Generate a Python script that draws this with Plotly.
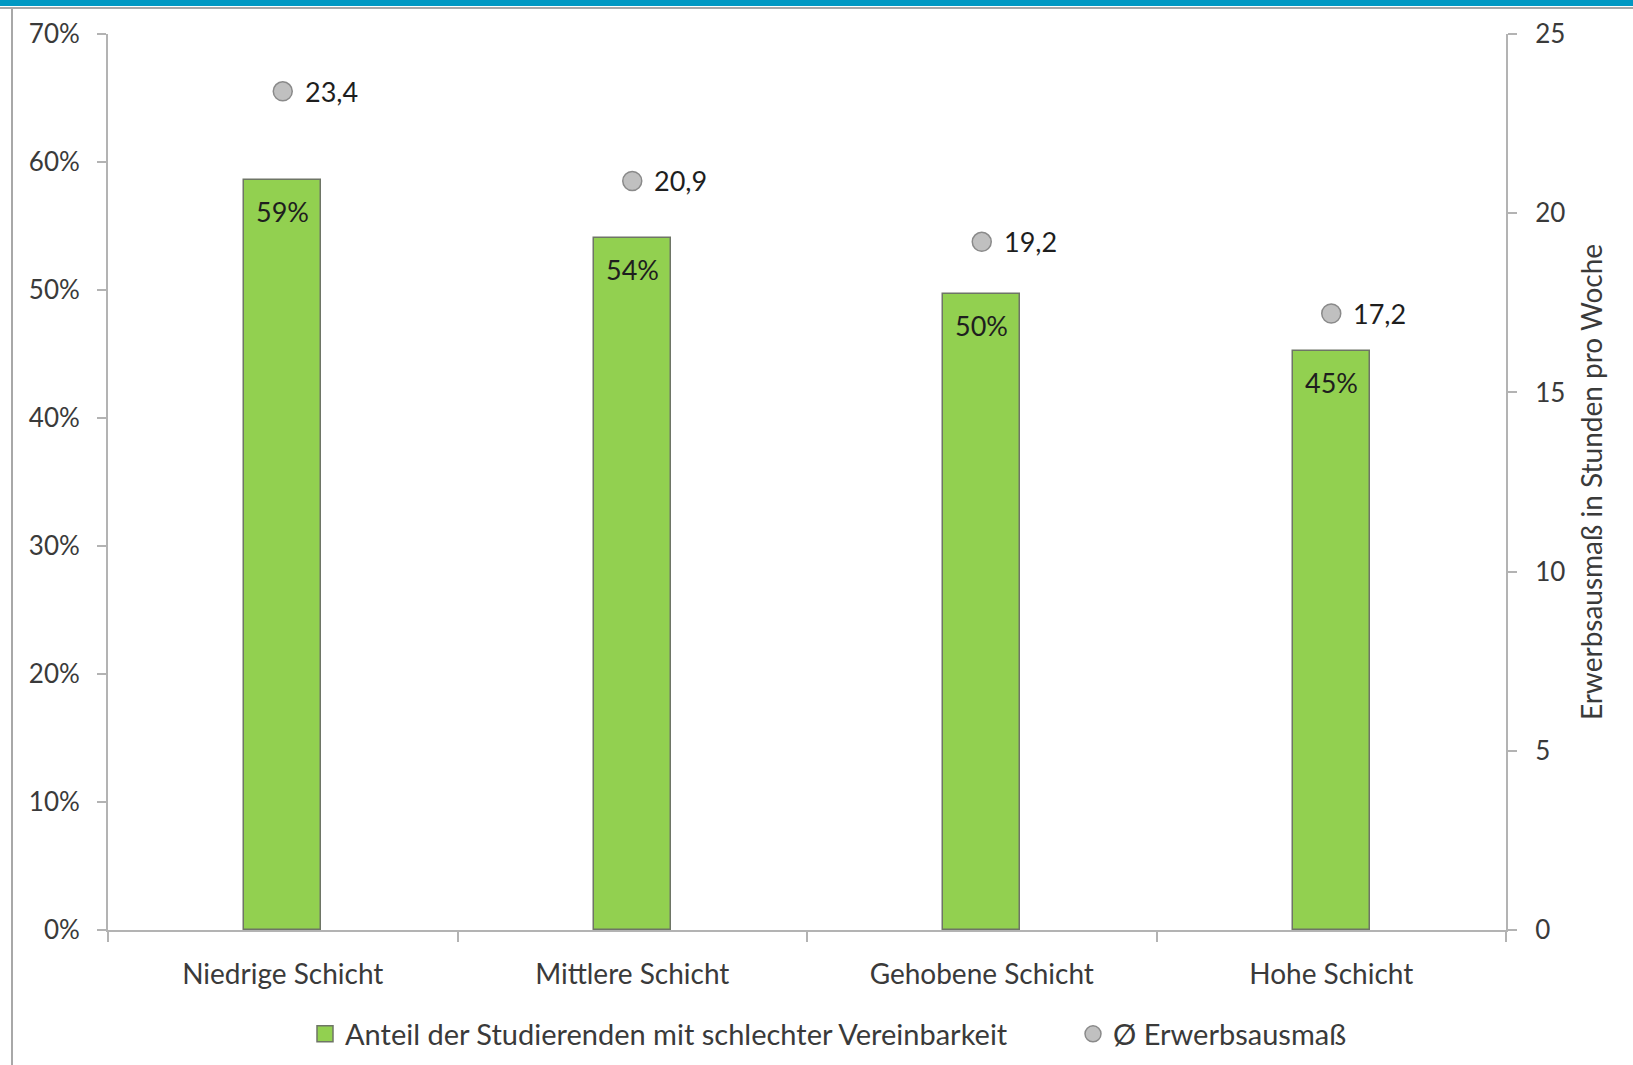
import plotly.graph_objects as go

# Data
categories = ["Niedrige Schicht", "Mittlere Schicht", "Gehobene Schicht", "Hohe Schicht"]
share_poor_balance = [58.6, 54.1, 49.7, 45.2]      # % of students, left axis
avg_hours = [23.4, 20.9, 19.2, 17.2]               # hours per week, right axis
bar_name = "Anteil der Studierenden mit schlechter Vereinbarkeit"
dot_name = "Ø Erwerbsausmaß"
y2_title = "Erwerbsausmaß in Stunden pro Woche"

W, H = 1633, 1065
L, R, T, B = 108, 127, 34, 135
PW, PH = W - L - R, H - T - B

def px_x(px):
    return (px - L) / PW

def px_y(py):
    return (H - B - py) / PH

FONT = "Lato"
GREY_TXT = "#3a3a3a"
AXIS = "#b3b3b3"
GREEN = "#92D050"
GREEN_EDGE = "#6e7566"

fig = go.Figure()

fig.add_trace(go.Bar(
    x=categories, y=share_poor_balance, name=bar_name,
    width=0.22,
    marker=dict(color=GREEN, line=dict(color=GREEN_EDGE, width=1.5)),
    yaxis="y", showlegend=False,
))

# legend entry for the bars, drawn as a larger square swatch
fig.add_trace(go.Scatter(
    x=[None], y=[None], name=bar_name, mode="markers",
    marker=dict(symbol="square", size=18, color=GREEN, line=dict(color=GREEN_EDGE, width=1.5)),
    legend="legend",
))

fig.add_trace(go.Scatter(
    x=categories, y=avg_hours, name=dot_name, mode="markers",
    marker=dict(size=19, color="#c0c0c0", line=dict(color="#8a8a8a", width=1.5)),
    yaxis="y2", legend="legend2",
))

annotations = []
for c, v in zip(categories, share_poor_balance):
    annotations.append(dict(
        x=c, y=v, xref="x", yref="y", text=f"{v:.0f}%", showarrow=False,
        yanchor="top", yshift=-13, font=dict(family=FONT, size=27, color="#1e1e1e"),
    ))
for c, v in zip(categories, avg_hours):
    annotations.append(dict(
        x=c, y=v, xref="x", yref="y2", text=f"{v:.1f}".replace(".", ","),
        showarrow=False, xanchor="left", xshift=20,
        font=dict(family=FONT, size=27, color="#1e1e1e"),
    ))

shapes = [
    # blue top band
    dict(type="rect", xref="paper", yref="paper", x0=px_x(0), x1=px_x(W),
         y0=px_y(6), y1=px_y(0), fillcolor="#0098c3", line=dict(width=0), layer="below"),
    # grey line under the band
    dict(type="line", xref="paper", yref="paper", x0=px_x(0), x1=px_x(W),
         y0=px_y(8), y1=px_y(8), line=dict(color="#a8a8a8", width=2), layer="below"),
    # chart frame (left edge)
    dict(type="line", xref="paper", yref="paper", x0=px_x(12), x1=px_x(12),
         y0=px_y(8), y1=px_y(H), line=dict(color="#a8a8a8", width=2), layer="below"),
]

legend_font = dict(family=FONT, size=29, color=GREY_TXT)

fig.update_layout(
    width=W, height=H,
    margin=dict(l=L, r=R, t=T, b=B, autoexpand=False),
    paper_bgcolor="white", plot_bgcolor="white",
    font=dict(family=FONT, size=27, color=GREY_TXT),
    showlegend=True,
    legend=dict(
        orientation="h", x=px_x(305), xanchor="left", y=px_y(1034), yanchor="middle",
        font=legend_font, itemwidth=30,
    ),
    legend2=dict(
        orientation="h", x=px_x(1073), xanchor="left", y=px_y(1034), yanchor="middle",
        font=legend_font, itemwidth=30,
    ),
    bargap=0,
    xaxis=dict(
        type="category", range=[-0.5, 3.5], showgrid=False,
        showline=True, linecolor=AXIS, linewidth=2,
        ticks="outside", tickson="boundaries", ticklen=10, tickcolor=AXIS, tickwidth=2,
        ticklabelstandoff=18,
        tickfont=dict(family=FONT, size=28, color=GREY_TXT),
    ),
    yaxis=dict(
        range=[0, 70], dtick=10, ticksuffix="%", showgrid=False, zeroline=False,
        showline=True, linecolor=AXIS, linewidth=2,
        ticks="outside", ticklen=9, tickcolor=AXIS, tickwidth=2,
        ticklabelstandoff=12,
        tickfont=dict(family=FONT, size=26, color=GREY_TXT),
    ),
    yaxis2=dict(
        range=[0, 25], dtick=5, overlaying="y", side="right", showgrid=False,
        zeroline=False, showline=True, linecolor=AXIS, linewidth=2,
        ticks="outside", ticklen=9, tickcolor=AXIS, tickwidth=2,
        ticklabelstandoff=13,
        tickfont=dict(family=FONT, size=26, color=GREY_TXT),
        title=dict(text=y2_title, font=dict(family=FONT, size=28, color=GREY_TXT), standoff=18),
    ),
    annotations=annotations,
    shapes=shapes,
)

fig.write_html("out.html")
